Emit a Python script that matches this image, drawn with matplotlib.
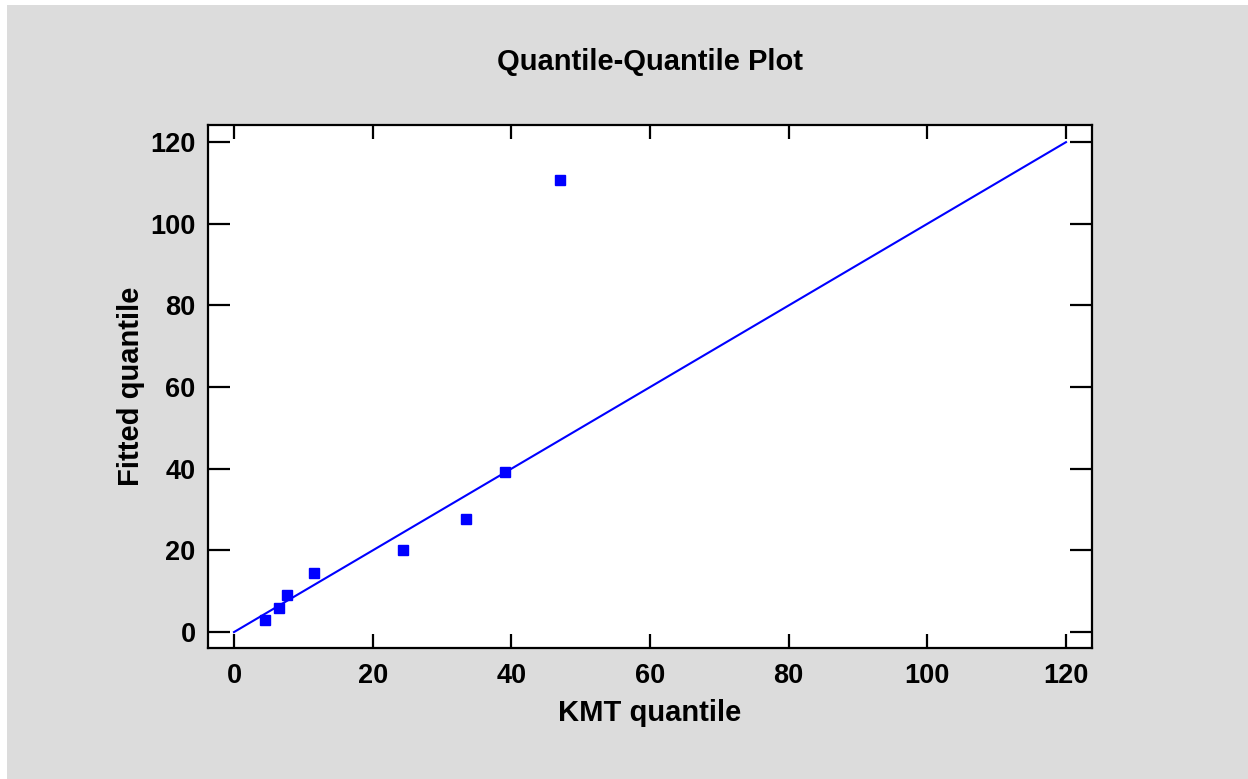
import matplotlib.pyplot as plt
from matplotlib.patches import Rectangle

# quantile pairs
kmt_q = [4.5, 6.5, 7.6, 11.5, 24.4, 33.5, 39.1, 47.0]
fitted_q = [2.9, 5.9, 9.0, 14.4, 20.1, 27.7, 39.2, 110.7]
ref_line = [0, 120]
ticks = [0, 20, 40, 60, 80, 100, 120]

plt.rcParams['font.family'] = ['Liberation Sans', 'DejaVu Sans']
plt.rcParams['font.weight'] = 'bold'

fig = plt.figure(figsize=(12.48, 7.79), dpi=100)
fig.patch.set_facecolor('white')
# gray panel behind everything
fig.patches.append(Rectangle((7 / 1248, 0), 1 - 7 / 1248, 1 - 5 / 779,
                             transform=fig.transFigure, facecolor='#dcdcdc',
                             edgecolor='none', zorder=-10))

ax = fig.add_axes([208 / 1248, 1 - 648 / 779, (1092 - 208) / 1248, (648 - 125) / 779])
ax.set_facecolor('white')

ax.plot(ref_line, ref_line, color='#0000ff', lw=1.5)
ax.plot(kmt_q, fitted_q, 's', color='#0000ff', ms=7.5, mec='#0000ff')

ax.set_xlim(-3.75, 123.75)
ax.set_ylim(-3.9, 124.2)
ax.set_xticks(ticks)
ax.set_yticks(ticks)

for s in ax.spines.values():
    s.set_linewidth(1.6)
ax.tick_params(axis='x', direction='in', length=10, width=1.6, top=True, labelsize=19.5, pad=11)
ax.tick_params(axis='y', direction='in', length=16, width=1.6, right=True, labelsize=19.5, pad=9)

ax.set_xlabel('KMT quantile', fontsize=21, fontweight='bold', labelpad=7)
ax.set_ylabel('Fitted quantile', fontsize=21, fontweight='bold', labelpad=4)
fig.text((208 + 1092) / 2 / 1248, 1 - 62 / 779, 'Quantile-Quantile Plot',
         ha='center', va='center', fontsize=21, fontweight='bold')

plt.savefig('out.png', dpi=100, facecolor=fig.get_facecolor())
